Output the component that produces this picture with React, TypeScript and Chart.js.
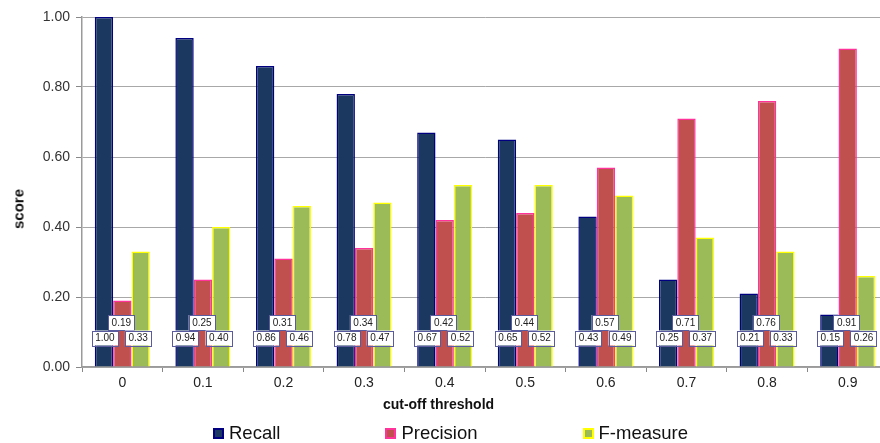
import React, { useEffect, useRef } from "react";
import { Chart, registerables } from "chart.js";

Chart.register(...registerables);

const categories = ["0", "0.1", "0.2", "0.3", "0.4", "0.5", "0.6", "0.7", "0.8", "0.9"];
const recall = [1.0, 0.94, 0.86, 0.78, 0.67, 0.65, 0.43, 0.25, 0.21, 0.15];
const precision = [0.19, 0.25, 0.31, 0.34, 0.42, 0.44, 0.57, 0.71, 0.76, 0.91];
const fMeasure = [0.33, 0.4, 0.46, 0.47, 0.52, 0.52, 0.49, 0.37, 0.33, 0.26];
const seriesNames = ["Recall", "Precision", "F-measure"];
const fills = ["#1B3860", "#C0504D", "#9BBB59"];
const borders = ["#000080", "#FF3399", "#FFFF00"];

const FONT = "'Liberation Sans', Arial, sans-serif";

// label box placement relative to bar (dx, dy above zero line)
const boxPlace = [
  { dx: 1, dy: 29 },
  { dx: -1, dy: 44.5 },
  { dx: -2.5, dy: 29 },
];

const valueBoxPlugin = {
  id: "valueBoxes",
  afterDatasetsDraw(chart: any) {
    const ctx = chart.ctx as CanvasRenderingContext2D;
    const base = chart.scales.y.getPixelForValue(0);
    ctx.save();
    ctx.font = `10px ${FONT}`;
    ctx.textAlign = "center";
    ctx.textBaseline = "middle";
    chart.data.datasets.forEach((ds: any, di: number) => {
      const meta = chart.getDatasetMeta(di);
      meta.data.forEach((bar: any, i: number) => {
        const text = Number(ds.data[i]).toFixed(2);
        const cx = bar.x + boxPlace[di].dx;
        const cy = base - boxPlace[di].dy;
        const w = ctx.measureText(text).width + 7;
        const h = 15;
        ctx.fillStyle = "#FFFFFF";
        ctx.fillRect(cx - w / 2, cy - h / 2, w, h);
        ctx.strokeStyle = "#5A5A9E";
        ctx.lineWidth = 1;
        ctx.strokeRect(Math.round(cx - w / 2) + 0.5, Math.round(cy - h / 2) + 0.5, Math.round(w), h);
        ctx.fillStyle = "#222222";
        ctx.fillText(text, cx, cy + 0.5);
      });
    });
    ctx.restore();
  },
};

export default function App() {
  const canvasRef = useRef<HTMLCanvasElement | null>(null);

  useEffect(() => {
    if (!canvasRef.current) return;
    const data = [recall, precision, fMeasure];
    const chart = new Chart(canvasRef.current, {
      type: "bar",
      data: {
        labels: categories,
        datasets: data.map((d, i) => ({
          label: seriesNames[i],
          data: d,
          backgroundColor: fills[i],
          borderColor: borders[i],
          borderWidth: 1.5,
          categoryPercentage: 0.683,
          barPercentage: 1.0,
        })),
      },
      options: {
        animation: false,
        responsive: true,
        maintainAspectRatio: false,
        layout: { padding: { top: 17, right: 12, bottom: 0, left: 0 } },
        plugins: {
          legend: { display: false },
          tooltip: { enabled: false },
          title: { display: false },
        },
        scales: {
          x: {
            grid: {
              offset: true,
              drawOnChartArea: false,
              drawTicks: true,
              tickLength: 5,
              color: "#888888",
            },
            border: { color: "#9A9A9A", width: 1.5 },
            ticks: {
              padding: 3,
              color: "#222222",
              font: { family: FONT, size: 14 },
            },
            afterFit: (scale: any) => {
              scale.height = 76;
            },
          },
          y: {
            min: 0,
            max: 1,
            grid: {
              color: "#A8A8A8",
              lineWidth: 1,
              borderDash: [2, 2],
              tickLength: 6,
              tickColor: "#888888",
              tickBorderDash: [],
            } as any,
            border: { color: "#9A9A9A", width: 1.5 },
            ticks: {
              stepSize: 0.2,
              padding: 6,
              color: "#333333",
              font: { family: FONT, size: 14 },
              callback: (v: any) => Number(v).toFixed(2),
            },
            afterFit: (scale: any) => {
              scale.width = 82;
            },
          },
        },
      },
      plugins: [valueBoxPlugin],
    });
    return () => chart.destroy();
  }, []);

  const legendItem = (i: number) => (
    <div key={i} style={{ display: "flex", alignItems: "center" }}>
      <span
        style={{
          display: "inline-block",
          width: 7,
          height: 7,
          background: fills[i],
          border: `2px solid ${borders[i]}`,
          marginRight: 5,
          marginTop: 1,
        }}
      />
      <span>{seriesNames[i]}</span>
    </div>
  );

  return (
    <div
      style={{
        position: "fixed",
        left: 0,
        top: 0,
        width: 880,
        height: 443,
        overflow: "hidden",
        background: "#FFFFFF",
        fontFamily: FONT,
      }}
    >
      <div style={{ position: "absolute", left: 0, top: 0, width: 900, height: 443 }}>
        <canvas ref={canvasRef} />
      </div>
      <div
        style={{
          position: "absolute",
          left: 17.5,
          top: 209,
          transform: "translate(-50%, -50%) rotate(-90deg)",
          fontWeight: "bold",
          fontSize: 15,
          color: "#111",
          whiteSpace: "nowrap",
        }}
      >
        score
      </div>
      <div
        style={{
          position: "absolute",
          left: 438.5,
          top: 404,
          transform: "translate(-50%, -50%)",
          fontWeight: "bold",
          fontSize: 14,
          color: "#111",
          whiteSpace: "nowrap",
        }}
      >
        cut-off threshold
      </div>
      <div
        style={{
          position: "absolute",
          left: 213,
          top: 432.5,
          transform: "translateY(-50%)",
          display: "flex",
          gap: 105,
          fontSize: 18.5,
          color: "#111",
          whiteSpace: "nowrap",
          lineHeight: "20px",
        }}
      >
        {[0, 1, 2].map(legendItem)}
      </div>
    </div>
  );
}
